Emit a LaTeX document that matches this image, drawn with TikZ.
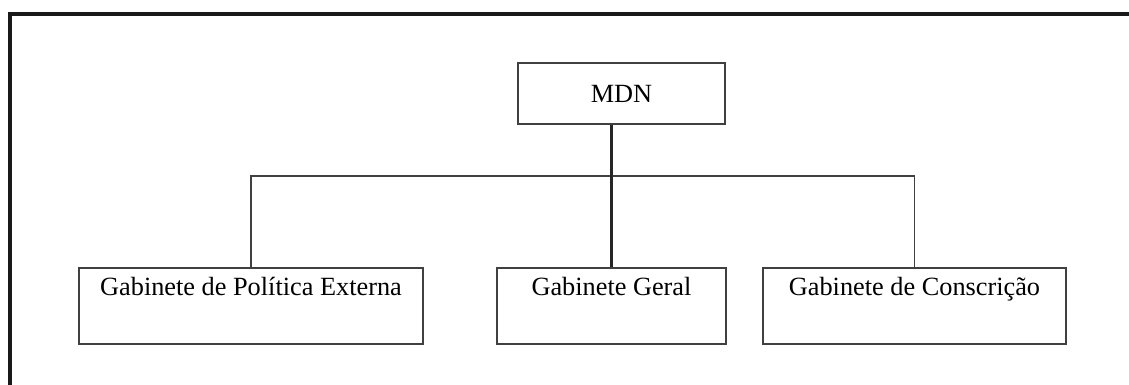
\documentclass[tikz,border=0pt]{standalone}
\usepackage{fontspec}
\setmainfont{Liberation Serif}
\usetikzlibrary{positioning}
\tikzstyle{unit} = [rectangle, draw=black!75, line width=1pt, inner sep=0pt, text height=0.7cm, text depth=1.2cm, font=\fontsize{18.7}{22}\selectfont]
\tikzstyle{top} = [rectangle, draw=black!75, line width=1pt, inner sep=0pt, minimum width=5.175cm, text height=1.0cm, text depth=0.525cm, font=\fontsize{18.7}{22}\selectfont]
\tikzstyle{link} = [draw=black!75, line width=1pt]
\tikzstyle{main} = [draw=black!85, line width=1.8pt]
\tikzstyle{frame} = [draw=black!90, line width=2.5pt]

\begin{document}
\begin{tikzpicture}[x=0.025cm, y=-0.025cm]
					\useasboundingbox (0,0) rectangle (1129,385);
					\draw[frame] (10,400) -- (10,14) -- (1140,14);
					\node[top] (mdn) at (621.5,93.5) {MDN};
					\node[unit, minimum width=8.6cm] (pol) at (251,306) {Gabinete de Política Externa};
					\node[unit, minimum width=5.725cm] (geral) at (611.5,306) {Gabinete Geral};
					\node[unit, minimum width=7.575cm] (consc) at (914.5,306) {Gabinete de Conscrição};
					\coordinate (bus) at (611.5,176);
					\draw[link] (pol.north) |- (bus) -| (consc.north);
					\draw[main] (mdn.south -| geral.north) -- (geral.north);
				\end{tikzpicture}
\end{document}
